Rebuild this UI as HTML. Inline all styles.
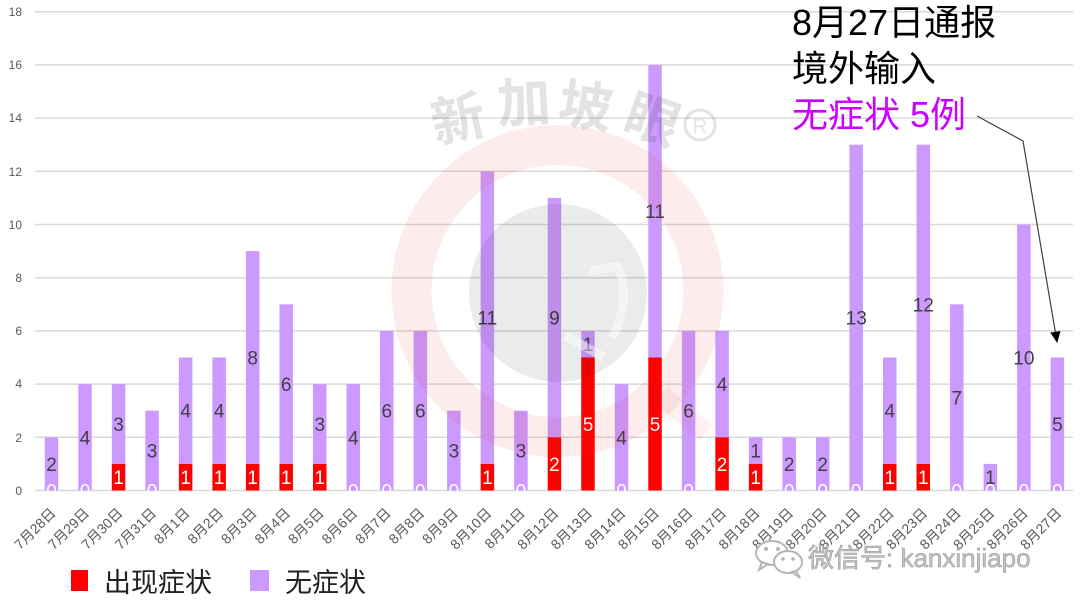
<!DOCTYPE html>
<html><head><meta charset="utf-8"><style>
html,body{margin:0;padding:0;background:#fff;}
svg{display:block;}
text{font-family:"Liberation Sans","Noto Sans CJK SC",sans-serif;}
</style></head><body>
<svg width="1080" height="608" viewBox="0 0 1080 608" xmlns="http://www.w3.org/2000/svg">
<rect width="1080" height="608" fill="#fff"/>
<!-- gridlines -->
<g stroke="#d9d9d9" stroke-width="1.5">
<line x1="35" y1="11.7" x2="1073" y2="11.7"/>
<line x1="35" y1="64.9" x2="1073" y2="64.9"/>
<line x1="35" y1="118.1" x2="1073" y2="118.1"/>
<line x1="35" y1="171.3" x2="1073" y2="171.3"/>
<line x1="35" y1="224.5" x2="1073" y2="224.5"/>
<line x1="35" y1="277.7" x2="1073" y2="277.7"/>
<line x1="35" y1="330.9" x2="1073" y2="330.9"/>
<line x1="35" y1="384.1" x2="1073" y2="384.1"/>
<line x1="35" y1="437.3" x2="1073" y2="437.3"/>
<line x1="35" y1="490.5" x2="1073" y2="490.5"/>
</g>
<!-- y labels -->
<g font-size="12" fill="#595959" text-anchor="end">
<text x="22" y="16">18</text>
<text x="22" y="69">16</text>
<text x="22" y="122">14</text>
<text x="22" y="176">12</text>
<text x="22" y="229">10</text>
<text x="22" y="282">8</text>
<text x="22" y="335">6</text>
<text x="22" y="388">4</text>
<text x="22" y="442">2</text>
<text x="22" y="495">0</text>
</g>
<!-- purple bars -->
<g fill="#cc99ff">
<rect x="44.75" y="437.3" width="13.5" height="53.2"/>
<rect x="78.28" y="384.1" width="13.5" height="106.4"/>
<rect x="111.81" y="384.1" width="13.5" height="79.8"/>
<rect x="145.34" y="410.7" width="13.5" height="79.8"/>
<rect x="178.87" y="357.5" width="13.5" height="106.4"/>
<rect x="212.4" y="357.5" width="13.5" height="106.4"/>
<rect x="245.93" y="251.1" width="13.5" height="212.8"/>
<rect x="279.46" y="304.3" width="13.5" height="159.6"/>
<rect x="312.99" y="384.1" width="13.5" height="79.8"/>
<rect x="346.52" y="384.1" width="13.5" height="106.4"/>
<rect x="380.05" y="330.9" width="13.5" height="159.6"/>
<rect x="413.58" y="330.9" width="13.5" height="159.6"/>
<rect x="447.11" y="410.7" width="13.5" height="79.8"/>
<rect x="480.64" y="171.3" width="13.5" height="292.6"/>
<rect x="514.17" y="410.7" width="13.5" height="79.8"/>
<rect x="547.7" y="197.9" width="13.5" height="239.4"/>
<rect x="581.23" y="330.9" width="13.5" height="26.6"/>
<rect x="614.76" y="384.1" width="13.5" height="106.4"/>
<rect x="648.29" y="64.9" width="13.5" height="292.6"/>
<rect x="681.82" y="330.9" width="13.5" height="159.6"/>
<rect x="715.35" y="330.9" width="13.5" height="106.4"/>
<rect x="748.88" y="437.3" width="13.5" height="26.6"/>
<rect x="782.41" y="437.3" width="13.5" height="53.2"/>
<rect x="815.94" y="437.3" width="13.5" height="53.2"/>
<rect x="849.47" y="144.7" width="13.5" height="345.8"/>
<rect x="883" y="357.5" width="13.5" height="106.4"/>
<rect x="916.53" y="144.7" width="13.5" height="319.2"/>
<rect x="950.06" y="304.3" width="13.5" height="186.2"/>
<rect x="983.59" y="463.9" width="13.5" height="26.6"/>
<rect x="1017.12" y="224.5" width="13.5" height="266"/>
<rect x="1050.65" y="357.5" width="13.5" height="133"/>
</g>
<!-- red bars -->
<g fill="#ff0000">
<rect x="111.81" y="463.9" width="13.5" height="26.6"/>
<rect x="178.87" y="463.9" width="13.5" height="26.6"/>
<rect x="212.4" y="463.9" width="13.5" height="26.6"/>
<rect x="245.93" y="463.9" width="13.5" height="26.6"/>
<rect x="279.46" y="463.9" width="13.5" height="26.6"/>
<rect x="312.99" y="463.9" width="13.5" height="26.6"/>
<rect x="480.64" y="463.9" width="13.5" height="26.6"/>
<rect x="547.7" y="437.3" width="13.5" height="53.2"/>
<rect x="581.23" y="357.5" width="13.5" height="133"/>
<rect x="648.29" y="357.5" width="13.5" height="133"/>
<rect x="715.35" y="437.3" width="13.5" height="53.2"/>
<rect x="748.88" y="463.9" width="13.5" height="26.6"/>
<rect x="883" y="463.9" width="13.5" height="26.6"/>
<rect x="916.53" y="463.9" width="13.5" height="26.6"/>
</g>
<!-- zero labels (white) -->
<g font-size="19" fill="#ffffff" text-anchor="middle">
<text x="51.5" y="497.5">0</text>
<text x="85.03" y="497.5">0</text>
<text x="152.09" y="497.5">0</text>
<text x="353.27" y="497.5">0</text>
<text x="386.8" y="497.5">0</text>
<text x="420.33" y="497.5">0</text>
<text x="453.86" y="497.5">0</text>
<text x="520.92" y="497.5">0</text>
<text x="621.51" y="497.5">0</text>
<text x="688.57" y="497.5">0</text>
<text x="789.16" y="497.5">0</text>
<text x="822.69" y="497.5">0</text>
<text x="856.22" y="497.5">0</text>
<text x="956.81" y="497.5">0</text>
<text x="990.34" y="497.5">0</text>
<text x="1023.87" y="497.5">0</text>
<text x="1057.4" y="497.5">0</text>
</g>
<!-- red labels (white) -->
<g font-size="19" fill="#ffffff" text-anchor="middle">
<text x="118.56" y="484.2">1</text>
<text x="185.62" y="484.2">1</text>
<text x="219.15" y="484.2">1</text>
<text x="252.68" y="484.2">1</text>
<text x="286.21" y="484.2">1</text>
<text x="319.74" y="484.2">1</text>
<text x="487.39" y="484.2">1</text>
<text x="554.45" y="470.9">2</text>
<text x="587.98" y="431">5</text>
<text x="655.04" y="431">5</text>
<text x="722.1" y="470.9">2</text>
<text x="755.63" y="484.2">1</text>
<text x="889.75" y="484.2">1</text>
<text x="923.28" y="484.2">1</text>
</g>
<!-- purple labels -->
<g font-size="19" fill="#404040" text-anchor="middle">
<text x="51.5" y="470.9">2</text>
<text x="85.03" y="444.3">4</text>
<text x="118.56" y="431">3</text>
<text x="152.09" y="457.6">3</text>
<text x="185.62" y="417.7">4</text>
<text x="219.15" y="417.7">4</text>
<text x="252.68" y="364.5">8</text>
<text x="286.21" y="391.1">6</text>
<text x="319.74" y="431">3</text>
<text x="353.27" y="444.3">4</text>
<text x="386.8" y="417.7">6</text>
<text x="420.33" y="417.7">6</text>
<text x="453.86" y="457.6">3</text>
<text x="487.39" y="324.6">11</text>
<text x="520.92" y="457.6">3</text>
<text x="554.45" y="324.6">9</text>
<text x="587.98" y="351.2">1</text>
<text x="621.51" y="444.3">4</text>
<text x="655.04" y="218.2">11</text>
<text x="688.57" y="417.7">6</text>
<text x="722.1" y="391.1">4</text>
<text x="755.63" y="457.6">1</text>
<text x="789.16" y="470.9">2</text>
<text x="822.69" y="470.9">2</text>
<text x="856.22" y="324.6">13</text>
<text x="889.75" y="417.7">4</text>
<text x="923.28" y="311.3">12</text>
<text x="956.81" y="404.4">7</text>
<text x="990.34" y="484.2">1</text>
<text x="1023.87" y="364.5">10</text>
<text x="1057.4" y="431">5</text>
</g>
<!-- x labels -->
<g font-size="14" fill="#595959" text-anchor="end">
<text transform="translate(56.5,514) rotate(-45)">7月28日</text>
<text transform="translate(90.03,514) rotate(-45)">7月29日</text>
<text transform="translate(123.56,514) rotate(-45)">7月30日</text>
<text transform="translate(157.09,514) rotate(-45)">7月31日</text>
<text transform="translate(190.62,514) rotate(-45)">8月1日</text>
<text transform="translate(224.15,514) rotate(-45)">8月2日</text>
<text transform="translate(257.68,514) rotate(-45)">8月3日</text>
<text transform="translate(291.21,514) rotate(-45)">8月4日</text>
<text transform="translate(324.74,514) rotate(-45)">8月5日</text>
<text transform="translate(358.27,514) rotate(-45)">8月6日</text>
<text transform="translate(391.8,514) rotate(-45)">8月7日</text>
<text transform="translate(425.33,514) rotate(-45)">8月8日</text>
<text transform="translate(458.86,514) rotate(-45)">8月9日</text>
<text transform="translate(492.39,514) rotate(-45)">8月10日</text>
<text transform="translate(525.92,514) rotate(-45)">8月11日</text>
<text transform="translate(559.45,514) rotate(-45)">8月12日</text>
<text transform="translate(592.98,514) rotate(-45)">8月13日</text>
<text transform="translate(626.51,514) rotate(-45)">8月14日</text>
<text transform="translate(660.04,514) rotate(-45)">8月15日</text>
<text transform="translate(693.57,514) rotate(-45)">8月16日</text>
<text transform="translate(727.1,514) rotate(-45)">8月17日</text>
<text transform="translate(760.63,514) rotate(-45)">8月18日</text>
<text transform="translate(794.16,514) rotate(-45)">8月19日</text>
<text transform="translate(827.69,514) rotate(-45)">8月20日</text>
<text transform="translate(861.22,514) rotate(-45)">8月21日</text>
<text transform="translate(894.75,514) rotate(-45)">8月22日</text>
<text transform="translate(928.28,514) rotate(-45)">8月23日</text>
<text transform="translate(961.81,514) rotate(-45)">8月24日</text>
<text transform="translate(995.34,514) rotate(-45)">8月25日</text>
<text transform="translate(1028.87,514) rotate(-45)">8月26日</text>
<text transform="translate(1062.4,514) rotate(-45)">8月27日</text>
</g>
<!-- watermark -->
<circle cx="557.5" cy="291" r="146" fill="none" stroke="rgba(220,40,40,0.09)" stroke-width="40"/>
<path d="M650 400 L700 440 L712 425 L668 388 Z" fill="rgba(220,40,40,0.07)"/>
<circle cx="558" cy="293" r="89" fill="rgba(0,0,0,0.08)"/>
<g fill="none" stroke="rgba(255,255,255,0.45)" stroke-width="9" stroke-linejoin="round">
<path d="M590 271 L618 266 Q632 300 612 338"/>
<path d="M565 336 L604 357"/>
</g>
<g font-size="54" font-weight="700" fill="rgba(0,0,0,0.11)" text-anchor="middle" font-family="'Noto Sans CJK SC',sans-serif">
<text transform="translate(462,138) rotate(-12)">新</text>
<text transform="translate(525,122) rotate(-3)">加</text>
<text transform="translate(583,125) rotate(8)">坡</text>
<text transform="translate(646,138) rotate(20)">眼</text>
</g>
<circle cx="700" cy="125" r="15" fill="none" stroke="rgba(0,0,0,0.11)" stroke-width="3"/>
<text x="700" y="133" font-size="20" fill="rgba(0,0,0,0.11)" text-anchor="middle">R</text>
<!-- annotation -->
<g font-size="36" fill="#000">
<text x="792" y="35">8月27日通报</text>
<text x="792" y="81">境外输入</text>
<text x="792" y="127" fill="#cc00ff">无症状 5例</text>
</g>
<polyline points="977,116 1023,141 1055.5,333" fill="none" stroke="#404040" stroke-width="1.2"/>
<polygon points="1057.2,343 1060.5,331 1050.3,332.6" fill="#000"/>
<!-- legend -->
<rect x="71" y="570" width="17" height="21" fill="#ff0000"/>
<text x="104" y="592" font-size="27" fill="#222">出现症状</text>
<rect x="250" y="570" width="19" height="21" fill="#cc99ff"/>
<text x="285" y="592" font-size="27" fill="#222">无症状</text>
<!-- wechat mark -->
<g fill="#fff" stroke="#b5b5b5" stroke-width="2">
<ellipse cx="772" cy="553" rx="16" ry="12"/>
<path d="M762 562 L759 570 L768 564 Z"/>
<ellipse cx="788" cy="562" rx="14" ry="11"/>
<path d="M796 571 L800 578 L792 572 Z"/>
</g>
<g fill="#b5b5b5">
<circle cx="766" cy="549" r="2"/><circle cx="778" cy="549" r="2"/>
<circle cx="783" cy="559" r="1.8"/><circle cx="793" cy="559" r="1.8"/>
</g>
<text x="808" y="567" font-size="26" fill="#c4c4c4" stroke="#9a9a9a" stroke-width="0.6">微信号: kanxinjiapo</text>
</svg>
</body></html>
